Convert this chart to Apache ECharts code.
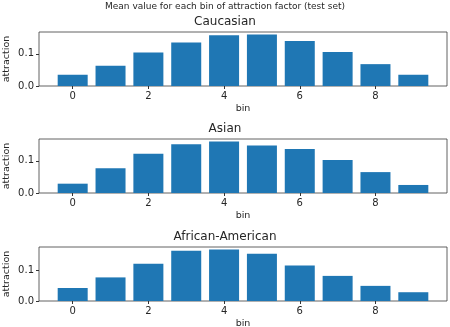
<!DOCTYPE html>
<html>
<head>
<meta charset="utf-8">
<script src="https://cdn.jsdelivr.net/npm/echarts@6/dist/echarts.min.js"></script>
<style>
  html, body { margin: 0; padding: 0; background: #fff; }
  #chart { width: 450px; height: 327px; }
</style>
</head>
<body>
<div id="chart"></div>
<script>
// data
const bins = [0, 1, 2, 3, 4, 5, 6, 7, 8, 9];
const caucasian = [0.035, 0.063, 0.104, 0.135, 0.158, 0.160, 0.140, 0.106, 0.068, 0.035];
const asian = [0.029, 0.077, 0.122, 0.152, 0.160, 0.148, 0.137, 0.103, 0.065, 0.025];
const africanAmerican = [0.043, 0.078, 0.123, 0.166, 0.170, 0.156, 0.117, 0.083, 0.050, 0.029];
const panelTitles = ['Caucasian', 'Asian', 'African-American'];
const xTicks = [0, 2, 4, 6, 8];
const yTicks = [0, 0.1];
const suptitle = 'Mean value for each bin of attraction factor (test set)';

const panels = [caucasian, asian, africanAmerican];
const font = 'DejaVu Sans';
const textColor = '#262626';

// panel layout (pixels)
const gridTops = [32, 139, 247];
const gridHeight = 54;
const titleTops = [16, 123, 231];

const chart = echarts.init(document.getElementById('chart'));

const grids = [], xAxes = [], yAxes = [], series = [];
const titles = [{
    text: suptitle, left: 'center', top: 2, padding: 0,
    textStyle: { fontFamily: font, fontSize: 9, fontWeight: 'normal', color: textColor }
}];

panels.forEach((vals, i) => {
    const ymax = Math.max(...vals) * 1.05;
    grids.push({
        left: 39, right: 3, top: gridTops[i], height: gridHeight,
        outerBoundsMode: 'none', containLabel: false,
        show: true, borderColor: '#3a3a3a', borderWidth: 0.8, backgroundColor: 'transparent'
    });
    titles.push({
        text: panelTitles[i], left: 'center', top: titleTops[i], padding: 0,
        textStyle: { fontFamily: font, fontSize: 12, fontWeight: 'normal', color: textColor }
    });
    xAxes.push({
        type: 'value', gridIndex: i, min: -0.89, max: 9.89,
        name: 'bin', nameLocation: 'middle', nameGap: 18, nameMoveOverlap: false,
        nameTextStyle: { fontFamily: font, fontSize: 9.5, color: textColor },
        axisLine: { show: false, onZero: false },
        splitLine: { show: false },
        axisTick: { show: true, customValues: xTicks, length: 3, lineStyle: { color: '#333' } },
        axisLabel: { customValues: xTicks, fontFamily: font, fontSize: 10, color: textColor, margin: 5 }
    });
    yAxes.push({
        type: 'value', gridIndex: i, min: 0, max: ymax,
        name: 'attraction', nameLocation: 'middle', nameGap: 27, nameRotate: 90,
        nameMoveOverlap: false,
        nameTextStyle: { fontFamily: font, fontSize: 9.5, color: textColor },
        axisLine: { show: false, onZero: false },
        splitLine: { show: false },
        axisTick: { show: true, customValues: yTicks, length: 3, lineStyle: { color: '#333' } },
        axisLabel: {
            customValues: yTicks, fontFamily: font, fontSize: 10, color: textColor, margin: 5,
            formatter: v => v.toFixed(1)
        }
    });
    series.push({
        type: 'bar', xAxisIndex: i, yAxisIndex: i,
        data: bins.map((b, k) => [b, vals[k]]),
        barWidth: 30,
        itemStyle: { color: '#1f77b4' },
        silent: true
    });
});

chart.setOption({
    animation: false,
    title: titles,
    grid: grids,
    xAxis: xAxes,
    yAxis: yAxes,
    series: series
});
</script>
</body>
</html>
